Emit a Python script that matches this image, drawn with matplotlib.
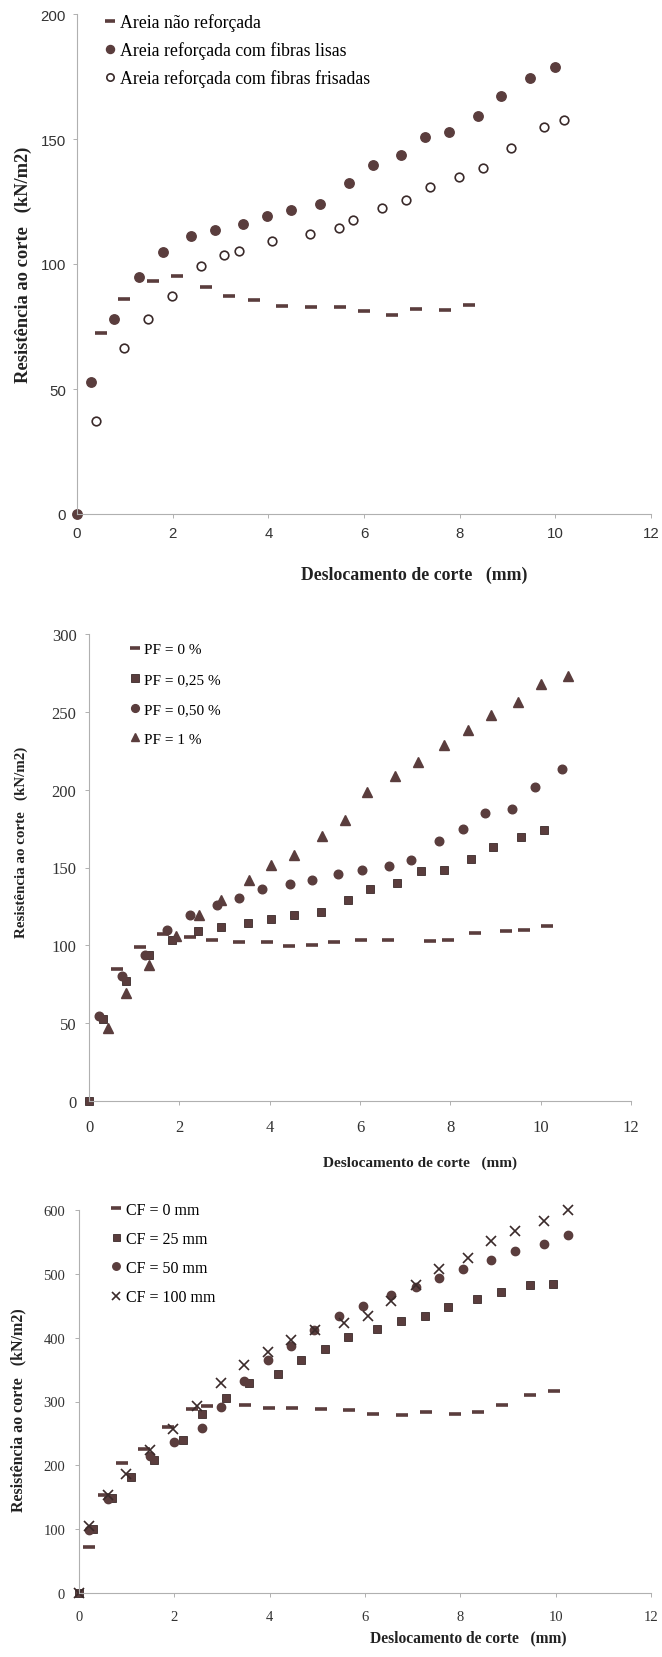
import matplotlib
matplotlib.use("Agg")
import matplotlib.pyplot as plt

SERIF = ["Liberation Serif", "DejaVu Serif"]
SANS = ["Liberation Sans", "DejaVu Sans"]
MARK = "#5a3d3d"
AXC = "#b0b0b0"

# ---- Panel 1: sand with smooth vs crimped fibres ----
p1_x_unreinf = [0.50, 0.99, 1.59, 2.09, 2.69, 3.18, 3.69, 4.28, 4.89, 5.49, 5.99, 6.59, 7.09, 7.69, 8.19]
p1_y_unreinf = [72.3, 85.9, 93.3, 95.1, 90.7, 87.1, 85.7, 83.3, 83.0, 82.7, 81.1, 79.7, 81.9, 81.6, 83.7]
p1_x_smooth = [0.0, 0.29, 0.78, 1.29, 1.79, 2.38, 2.89, 3.48, 3.98, 4.47, 5.08, 5.68, 6.18, 6.78, 7.28, 7.78, 8.38, 8.87, 9.47, 9.99]
p1_y_smooth = [0.0, 53.0, 77.9, 95.0, 104.9, 111.3, 113.7, 115.9, 119.3, 121.6, 123.9, 132.3, 139.6, 143.6, 151.0, 152.7, 159.3, 167.3, 174.6, 178.7]
p1_x_crimped = [0.40, 0.99, 1.49, 1.99, 2.59, 3.08, 3.38, 4.08, 4.87, 5.47, 5.77, 6.38, 6.87, 7.37, 7.98, 8.48, 9.07, 9.77, 10.18]
p1_y_crimped = [37.3, 66.4, 77.9, 87.4, 99.4, 103.7, 105.4, 109.3, 112.1, 114.3, 117.6, 122.3, 125.7, 130.7, 134.7, 138.6, 146.3, 155.0, 157.7]
p1_labels = ["Areia não reforçada", "Areia reforçada com fibras lisas", "Areia reforçada com fibras frisadas"]
p1_yticks = [0, 50, 100, 150, 200]

# ---- Panel 2: fibre percentage ----
p2_x_pf0 = [0.61, 1.12, 1.64, 2.23, 2.73, 3.32, 3.93, 4.43, 4.93, 5.43, 6.03, 6.63, 7.54, 7.95, 8.54, 9.24, 9.64, 10.15]
p2_y_pf0 = [84.7, 99.0, 107.3, 105.2, 103.4, 102.0, 102.0, 99.7, 100.4, 102.2, 103.4, 103.4, 102.5, 103.2, 107.8, 108.9, 109.8, 112.4]
p2_x_pf025 = [0.0, 0.31, 0.82, 1.33, 1.83, 2.42, 2.92, 3.53, 4.03, 4.53, 5.14, 5.73, 6.23, 6.83, 7.36, 7.85, 8.45, 8.95, 9.57, 10.08]
p2_y_pf025 = [0.0, 52.5, 77.1, 93.5, 103.2, 109.4, 111.9, 114.2, 117.0, 119.3, 121.6, 129.2, 136.3, 140.2, 147.6, 148.7, 155.4, 163.3, 169.9, 174.1]
p2_x_pf050 = [0.22, 0.73, 1.24, 1.72, 2.23, 2.83, 3.32, 3.83, 4.44, 4.93, 5.52, 6.04, 6.64, 7.13, 7.75, 8.27, 8.76, 9.37, 9.87, 10.47]
p2_y_pf050 = [54.8, 80.6, 93.9, 110.1, 119.5, 125.7, 130.1, 135.9, 139.3, 141.8, 145.8, 148.1, 150.8, 154.7, 167.2, 174.5, 184.9, 187.9, 201.5, 213.2]
p2_x_pf1 = [0.41, 0.82, 1.33, 1.93, 2.43, 2.92, 3.54, 4.03, 4.54, 5.15, 5.66, 6.16, 6.78, 7.28, 7.87, 8.39, 8.89, 9.49, 10.00, 10.60]
p2_y_pf1 = [47.2, 69.1, 87.5, 106.1, 119.5, 128.9, 142.1, 151.3, 158.2, 170.2, 180.3, 198.7, 208.6, 217.8, 228.6, 238.3, 247.8, 256.5, 268.2, 273.3]
p2_labels = ["PF = 0 %", "PF = 0,25 %", "PF = 0,50 %", "PF = 1 %"]
p2_yticks = [0, 50, 100, 150, 200, 250, 300]

# ---- Panel 3: fibre length ----
p3_x_cf0 = [0.21, 0.52, 0.90, 1.36, 1.87, 2.38, 2.68, 3.48, 3.98, 4.47, 5.07, 5.67, 6.17, 6.77, 7.28, 7.88, 8.38, 8.87, 9.47, 9.97]
p3_y_cf0 = [72.0, 153.9, 204.0, 225.9, 259.8, 287.5, 292.2, 294.8, 290.6, 290.6, 288.0, 287.0, 280.7, 279.1, 282.8, 280.7, 283.3, 294.8, 309.4, 315.7]
p3_x_cf25 = [0.0, 0.30, 0.70, 1.09, 1.58, 2.18, 2.58, 3.08, 3.57, 4.17, 4.66, 5.16, 5.65, 6.26, 6.75, 7.26, 7.75, 8.36, 8.86, 9.46, 9.95]
p3_y_cf25 = [0.0, 100.7, 148.7, 181.6, 207.7, 239.0, 279.7, 305.2, 328.7, 343.3, 365.2, 382.4, 400.7, 413.7, 426.3, 434.1, 448.7, 460.7, 471.1, 482.6, 483.6]
p3_x_cf50 = [0.21, 0.60, 1.49, 1.99, 2.58, 2.97, 3.46, 3.96, 4.45, 4.94, 5.45, 5.95, 6.55, 7.06, 7.55, 8.05, 8.65, 9.14, 9.75, 10.25]
p3_y_cf50 = [98.1, 146.6, 214.4, 236.3, 258.3, 291.7, 332.3, 365.2, 387.7, 412.7, 434.1, 449.7, 467.0, 480.0, 494.1, 507.1, 521.7, 535.3, 546.8, 560.3]
p3_x_cf100 = [0.0, 0.21, 0.61, 0.99, 1.49, 1.98, 2.48, 2.98, 3.46, 3.96, 4.45, 4.95, 5.55, 6.06, 6.55, 7.06, 7.56, 8.16, 8.65, 9.15, 9.75, 10.26]
p3_y_cf100 = [0.0, 104.3, 153.9, 186.8, 223.3, 257.2, 292.2, 329.2, 357.4, 378.3, 396.5, 412.2, 423.1, 434.6, 458.1, 482.6, 507.6, 525.4, 552.0, 567.7, 582.3, 600.0]
p3_labels = ["CF = 0 mm", "CF = 25 mm", "CF = 50 mm", "CF = 100 mm"]
p3_yticks = [0, 100, 200, 300, 400, 500, 600]

xticks = [0, 2, 4, 6, 8, 10, 12]
xlabel = "Deslocamento de corte   (mm)"
ylabel = "Resistência ao corte   (kN/m2)"

W, H = 662, 1658
fig = plt.figure(figsize=(W / 100, H / 100), dpi=100)


def rect(x0, x1, ytop, ybot):
    return [x0 / W, 1 - ybot / H, (x1 - x0) / W, (ybot - ytop) / H]


def style_axes(ax, yticks, ymax, tick_family, tick_size, xpad, ypad):
    ax.set_xlim(0, 12)
    ax.set_ylim(0, ymax)
    ax.set_xticks(xticks)
    ax.set_yticks(yticks)
    for s in ("top", "right"):
        ax.spines[s].set_visible(False)
    for s in ("left", "bottom"):
        ax.spines[s].set_color(AXC)
        ax.spines[s].set_linewidth(0.8)
    ax.tick_params(axis="both", colors=AXC, length=3, width=0.7, labelcolor="#333333",
                   labelsize=tick_size)
    ax.tick_params(axis="x", pad=xpad)
    ax.tick_params(axis="y", pad=ypad)
    for lab in ax.get_xticklabels() + ax.get_yticklabels():
        lab.set_family(tick_family)


def dash(ax, x, y, ms, label):
    ax.plot(x, y, ls="none", marker="_", ms=ms, mew=2.6, color=MARK, label=label, clip_on=False)


# Panel 1
ax1 = fig.add_axes(rect(77, 651, 15, 515))
dash(ax1, p1_x_unreinf, p1_y_unreinf, 8, p1_labels[0])
ax1.plot(p1_x_smooth, p1_y_smooth, ls="none", marker="o", ms=6.8, mfc=MARK, mec=MARK,
         label=p1_labels[1], clip_on=False)
ax1.plot(p1_x_crimped, p1_y_crimped, ls="none", marker="o", ms=6.2, mfc="white", mec="#3a2a2a",
         mew=1.2, label=p1_labels[2], clip_on=False)
style_axes(ax1, p1_yticks, 200, SANS, 10.8, 6, 5)
ax1.legend(loc="upper left", bbox_to_anchor=(0.035, 1.016), frameon=False, handlelength=0.6,
           handletextpad=0.3, labelspacing=0.57, borderaxespad=0,
           prop={"family": SERIF, "size": 12.8}, markerscale=0.85)
fig.text(414 / W, 1 - 575 / H, xlabel, family=SERIF, weight="bold", size=12.8,
         ha="center", va="center", color="#222222")
fig.text(23 / W, 1 - 265 / H, ylabel, family=SERIF, weight="bold", size=13.3,
         ha="center", va="center", rotation=90, color="#222222")

# Panel 2
ax2 = fig.add_axes(rect(89, 631, 635, 1102))
dash(ax2, p2_x_pf0, p2_y_pf0, 8, p2_labels[0])
ax2.plot(p2_x_pf025, p2_y_pf025, ls="none", marker="s", ms=6, mfc=MARK, mec="#3a2a2a",
         mew=0.6, label=p2_labels[1], clip_on=False)
ax2.plot(p2_x_pf050, p2_y_pf050, ls="none", marker="o", ms=6.2, mfc=MARK, mec=MARK,
         label=p2_labels[2], clip_on=False)
ax2.plot(p2_x_pf1, p2_y_pf1, ls="none", marker="^", ms=6.5, mfc=MARK, mec=MARK,
         label=p2_labels[3], clip_on=False)
style_axes(ax2, p2_yticks, 300, SERIF, 12, 10, 6)
ax2.legend(loc="upper left", bbox_to_anchor=(0.065, 0.995), frameon=False, handlelength=0.6,
           handletextpad=0.3, labelspacing=1.06, borderaxespad=0,
           prop={"family": SERIF, "size": 11}, markerscale=0.9)
fig.text(420 / W, 1 - 1163 / H, xlabel, family=SERIF, weight="bold", size=11,
         ha="center", va="center", color="#222222")
fig.text(21 / W, 1 - 842 / H, ylabel, family=SERIF, weight="bold", size=10.8,
         ha="center", va="center", rotation=90, color="#222222")

# Panel 3
ax3 = fig.add_axes(rect(79, 651, 1211, 1594))
dash(ax3, p3_x_cf0, p3_y_cf0, 8, p3_labels[0])
ax3.plot(p3_x_cf25, p3_y_cf25, ls="none", marker="s", ms=5.6, mfc=MARK, mec="#3a2a2a",
         mew=0.6, label=p3_labels[1], clip_on=False)
ax3.plot(p3_x_cf50, p3_y_cf50, ls="none", marker="o", ms=6, mfc=MARK, mec=MARK,
         label=p3_labels[2], clip_on=False)
ax3.plot(p3_x_cf100, p3_y_cf100, ls="none", marker="x", ms=7, mew=1.2, color="#3a2a2a",
         label=p3_labels[3], clip_on=False)
style_axes(ax3, p3_yticks, 600, SERIF, 10.5, 9, 7)
ax3.legend(loc="upper left", bbox_to_anchor=(0.045, 1.038), frameon=False, handlelength=0.6,
           handletextpad=0.3, labelspacing=0.82, borderaxespad=0,
           prop={"family": SERIF, "size": 11.5}, markerscale=0.9)
fig.text(468 / W, 1 - 1638 / H, xlabel, family=SERIF, weight="bold", size=11.2,
         ha="center", va="center", color="#222222")
fig.text(18 / W, 1 - 1410 / H, ylabel, family=SERIF, weight="bold", size=11.5,
         ha="center", va="center", rotation=90, color="#222222")

fig.savefig("out.png", dpi=100, facecolor="white")
